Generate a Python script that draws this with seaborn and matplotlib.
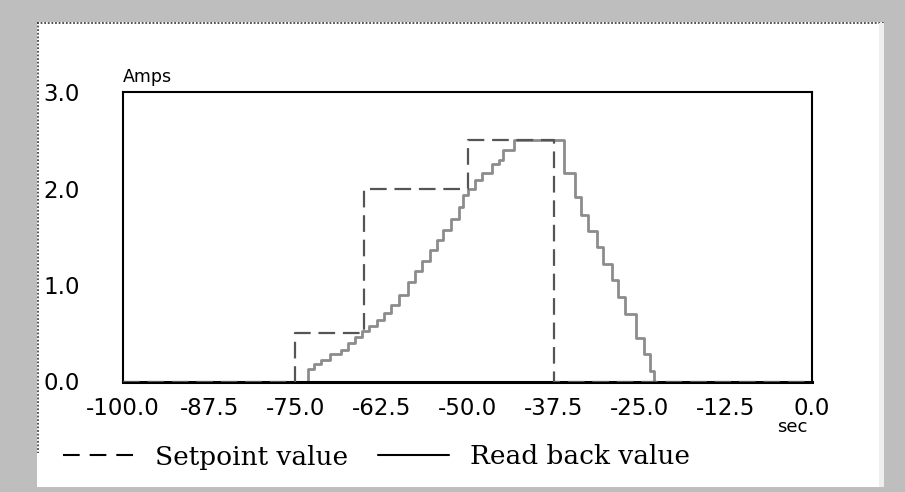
import matplotlib
matplotlib.use("Agg")
import matplotlib.pyplot as plt
from matplotlib.patches import Rectangle
from matplotlib.lines import Line2D
import pandas as pd
import seaborn as sns

# ---- data ----
setpoint_time = [-100.0, -75.0, -65.0, -50.0, -37.5, 0.0]
setpoint_amps = [0.0, 0.5, 2.0, 2.5, 0.0, 0.0]

readback_time = [-100.0, -73.2, -72.3, -71.2, -70.0, -68.4, -67.4, -66.3, -65.3,
                 -64.3, -63.2, -62.1, -61.1, -59.9, -58.7, -57.6, -56.6, -55.5,
                 -54.4, -53.5, -52.4, -51.3, -50.6, -50.0, -48.9, -47.9, -46.5,
                 -45.5, -44.8, -43.3, -36.05, -34.35, -33.47, -32.5, -31.2, -30.4,
                 -29.1, -28.15, -27.1, -25.6, -24.4, -23.5, -22.9, 0.0]
readback_amps = [0.0, 0.13, 0.18, 0.22, 0.28, 0.33, 0.40, 0.46, 0.52,
                 0.58, 0.64, 0.71, 0.79, 0.90, 1.03, 1.14, 1.25, 1.36,
                 1.47, 1.57, 1.68, 1.81, 1.93, 1.99, 2.09, 2.16, 2.25,
                 2.30, 2.40, 2.50, 2.16, 1.91, 1.73, 1.56, 1.39, 1.22,
                 1.05, 0.88, 0.70, 0.45, 0.28, 0.11, 0.0, 0.0]

x_ticks = [-100.0, -87.5, -75.0, -62.5, -50.0, -37.5, -25.0, -12.5, 0.0]
x_tick_labels = ["-100.0", "-87.5", "-75.0", "-62.5", "-50.0", "-37.5", "-25.0", "-12.5", "0.0"]
y_ticks = [0.0, 1.0, 2.0, 3.0]
y_tick_labels = ["0.0", "1.0", "2.0", "3.0"]

series_names = ["Setpoint value", "Read back value"]

setpoint_df = pd.DataFrame({"time": setpoint_time, "amps": setpoint_amps})
readback_df = pd.DataFrame({"time": readback_time, "amps": readback_amps})

# ---- style ----
sns.set_style("white")
plt.rcParams['font.family'] = ['DejaVu Sans']

W, H = 905, 492
def fx(px):
    return px / W
def fy(py):
    return 1 - py / H

fig = plt.figure(figsize=(W / 100, H / 100), dpi=100, facecolor='#bebebe')

# white panel with dotted border
fig.patches.append(Rectangle((fx(37), fy(487)), (884 - 37) / W, (487 - 22) / H,
                             transform=fig.transFigure, facecolor='white',
                             edgecolor='none', zorder=-2))
fig.patches.append(Rectangle((fx(879), fy(487)), 5 / W, (487 - 23) / H,
                             transform=fig.transFigure, facecolor='#eeeeee',
                             edgecolor='none', zorder=-1))
fig.lines.append(Line2D([fx(37), fx(884)], [fy(22.5), fy(22.5)], transform=fig.transFigure,
                        color='#444444', lw=1.3, linestyle=(0, (1, 1)), zorder=-1))
fig.lines.append(Line2D([fx(38), fx(38)], [fy(22), fy(453)], transform=fig.transFigure,
                        color='#444444', lw=1.3, linestyle=(0, (1, 1)), zorder=-1))

ax = fig.add_axes([fx(123), fy(381.5), (812 - 123) / W, (381.5 - 92) / H])
ax.set_facecolor('white')

dash = (0, (7.5, 3.5))
sns.lineplot(data=readback_df, x="time", y="amps", ax=ax, drawstyle='steps-post',
             color='#8c8c8c', lw=2.0, estimator=None, legend=False, zorder=2)
sns.lineplot(data=setpoint_df, x="time", y="amps", ax=ax, drawstyle='steps-post',
             color='#555555', lw=1.6, linestyle=dash, estimator=None, legend=False, zorder=3)

ax.set_xlim(-100, 0)
ax.set_ylim(0, 3)
ax.set_xticks(x_ticks)
ax.set_xticklabels(x_tick_labels)
ax.set_yticks(y_ticks)
ax.set_yticklabels(y_tick_labels)
ax.set_xlabel("")
ax.set_ylabel("")
for sp in ax.spines.values():
    sp.set_visible(True)
    sp.set_color('black')
    sp.set_linewidth(1.5)
ax.spines['bottom'].set_linewidth(2.2)
ax.tick_params(axis='x', direction='out', length=4, width=1.2, pad=7,
               labelsize=16.5, colors='black')
ax.tick_params(axis='y', length=0, pad=31, labelsize=16.5, colors='black')

fig.text(fx(123), fy(82), "Amps", fontsize=12.5, ha='left', va='baseline', color='black')
fig.text(fx(792), fy(432), "sec", fontsize=13, ha='center', va='baseline', color='black')

handles = [Line2D([], [], color='black', lw=1.5, linestyle=(0, (8, 4.8))),
           Line2D([], [], color='black', lw=1.5)]
fig.legend(handles, series_names, loc='center left', bbox_to_anchor=(fx(63), fy(457)),
           bbox_transform=fig.transFigure, ncol=2, frameon=False, borderpad=0,
           borderaxespad=0, handlelength=2.7, handletextpad=0.8, columnspacing=1.1,
           labelcolor='black', prop={'family': 'DejaVu Serif', 'size': 19})

fig.savefig("out.png", dpi=100, facecolor=fig.get_facecolor())
